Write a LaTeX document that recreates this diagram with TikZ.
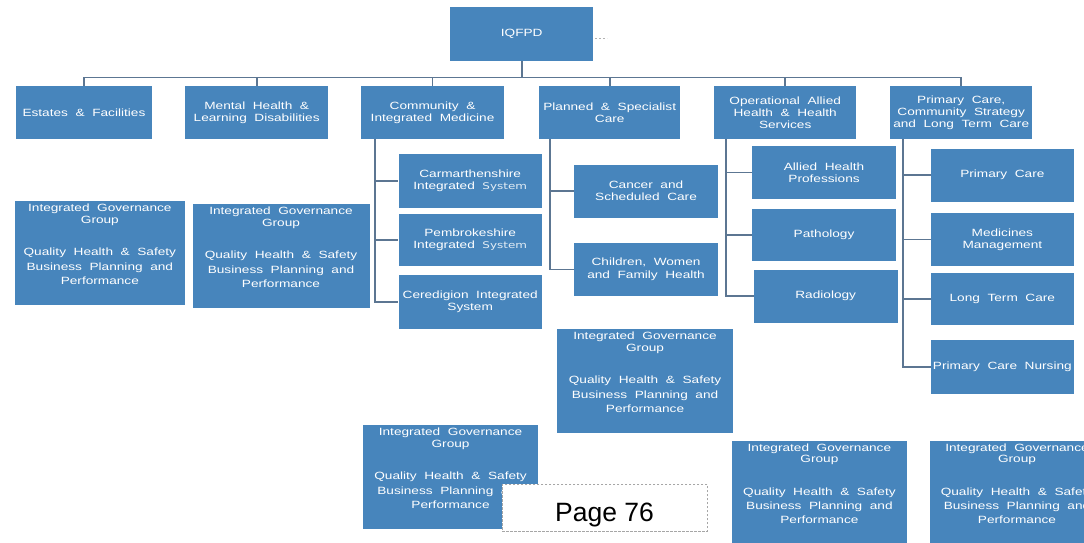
\documentclass[tikz,border=0pt]{standalone}
\usepackage{fontspec}
\newfontfamily\boxfont{Liberation Sans}[FakeStretch=1.3,WordSpace=2]
\newfontfamily\pagefont{Liberation Sans}
\newfontfamily\sysfont{DejaVu Sans}[FakeStretch=1.3]
\definecolor{boxblue}{RGB}{71,133,188}
\definecolor{linkgrey}{RGB}{92,118,146}
\newcommand\sysword{{\sysfont\fontsize{9.2}{11}\selectfont\color{white!85!boxblue}System}}
\newcommand\iggtext{Integrated Governance\\Group\\[21.5pt]Quality Health \& Safety\\[3pt]Business Planning and\\[2.7pt]Performance}

\begin{document}
\begin{tikzpicture}[x=1pt,y=-1pt,
  unit/.style={anchor=north west, fill=boxblue, inner sep=0pt, text=white,
    align=center, font=\boxfont\fontsize{10.5}{12.3}\selectfont},
  iggbox/.style={anchor=north west, fill=boxblue, inner sep=0pt,
    minimum width=#1, minimum height=103.5pt},
  iggtxt/.style={anchor=north, inner sep=0pt, text=white, align=center,
    font=\boxfont\fontsize{10.5}{11.3}\selectfont},
  link/.style={draw=linkgrey, line width=1.8pt},
]
\useasboundingbox (0,0) rectangle (1084,542);
\fill[white] (0,0) rectangle (1084,542);
\clip (0,0) rectangle (1084,542);

% top of the structure
\node[unit, minimum width=143pt, minimum height=54pt] (iq) at (450,7) {IQFPD};
\draw[gray!60, line width=0.6pt, dash pattern=on 2pt off 2pt] ([xshift=2pt,yshift=-4pt]iq.east) -- ++(12,0);

% directorates
\node[unit, minimum width=136.5pt, minimum height=53pt] (est) at (15.5,86) {Estates \& Facilities};
\node[unit, minimum width=143pt, minimum height=53pt] (mh) at (185,86) {Mental Health \&\\Learning Disabilities};
\node[unit, minimum width=143.3pt, minimum height=53pt] (com) at (360.7,86) {Community \&\\Integrated Medicine};
\node[unit, minimum width=141pt, minimum height=53pt] (pla) at (539,86) {Planned \& Specialist\\Care};
\node[unit, minimum width=142pt, minimum height=53pt] (ops) at (714,86) {Operational Allied\\Health \& Health\\Services};
\node[unit, minimum width=142pt, minimum height=53pt] (pri) at (890,86) {Primary Care,\\Community Strategy\\and Long Term Care};

% community & integrated medicine
\node[unit, minimum width=143.4pt, minimum height=53.3pt] (carm) at (398.3,154) {Carmarthenshire\\Integrated \sysword};
\node[unit, minimum width=143.4pt, minimum height=51.7pt] (pemb) at (398.3,214) {Pembrokeshire\\Integrated \sysword};
\node[unit, minimum width=143.4pt, minimum height=53.3pt] (cere) at (398.3,275) {Ceredigion Integrated\\System};

% planned & specialist care
\node[unit, minimum width=143.7pt, minimum height=53pt] (canc) at (574,164.3) {Cancer and\\Scheduled Care};
\node[unit, minimum width=143.7pt, minimum height=53pt] (chil) at (574,242.7) {Children, Women\\and Family Health};

% operational allied health
\node[unit, minimum width=143.7pt, minimum height=53.3pt] (alli) at (752,145.7) {Allied Health\\Professions};
\node[unit, minimum width=143.7pt, minimum height=52.7pt] (path) at (752,208.3) {Pathology};
\node[unit, minimum width=143.6pt, minimum height=53pt] (radi) at (753.7,269.3) {Radiology};

% primary care & long term care
\node[unit, minimum width=142.3pt, minimum height=53.4pt] (prc) at (931,148.3) {Primary Care};
\node[unit, minimum width=142.3pt, minimum height=53.3pt] (med) at (931,212.7) {Medicines\\Management};
\node[unit, minimum width=142.3pt, minimum height=52.7pt] (ltc) at (931,272.3) {Long Term Care};
\node[unit, minimum width=142.3pt, minimum height=53.3pt] (pcn) at (931,340) {Primary Care Nursing};

% governance groups
\node[iggbox=169.3pt] (g1) at (15,201) {};
\node[iggtxt] (g1t) at ([yshift=-3pt]g1.north) {\iggtext};
\node[iggbox=177pt] (g2) at (192.3,204) {};
\node[iggtxt] (g2t) at ([yshift=-3pt]g2.north) {\iggtext};
\node[iggbox=175.7pt] (g3) at (557,329) {};
\node[iggtxt] (g3t) at ([yshift=-3pt]g3.north) {\iggtext};
\node[iggbox=175.3pt] (g4) at (362.7,425) {};
\node[iggtxt] (g4t) at ([yshift=-3pt]g4.north) {\iggtext};
\node[iggbox=175pt] (g5) at (731.7,440.7) {};
\node[iggtxt] (g5t) at ([yshift=-3pt]g5.north) {\iggtext};
\node[iggbox=175pt] (g6) at (929.3,440.7) {};
\node[iggtxt] (g6t) at ([yshift=-3pt]g6.north) {\iggtext};

% top-level bus
\foreach \d in {est,mh,com,pla,ops,pri}
  \draw[link] (iq.south) -- ++(0,16) -| (\d.north);

% subordinate branches
\foreach \c in {carm,pemb,cere}
  \draw[link] ([xshift=14pt]com.south west) |- (\c.west);
\foreach \c in {canc,chil}
  \draw[link] ([xshift=11pt]pla.south west) |- (\c.west);
\foreach \c in {alli,path,radi}
  \draw[link] ([xshift=12pt]ops.south west) |- (\c.west);
\foreach \c in {prc,med,ltc,pcn}
  \draw[link] ([xshift=12.7pt]pri.south west) |- (\c.west);

% page number
\node[anchor=north west, fill=white, draw=gray!70, line width=0.8pt,
  dash pattern=on 2.5pt off 1.5pt, minimum width=205pt, minimum height=47pt] (pg) at (502,484) {};
\node[anchor=base, inner sep=0pt, font=\pagefont\fontsize{26.5}{30}\selectfont] (pgt) at (604.5,521) {Page 76};
\end{tikzpicture}
\end{document}
